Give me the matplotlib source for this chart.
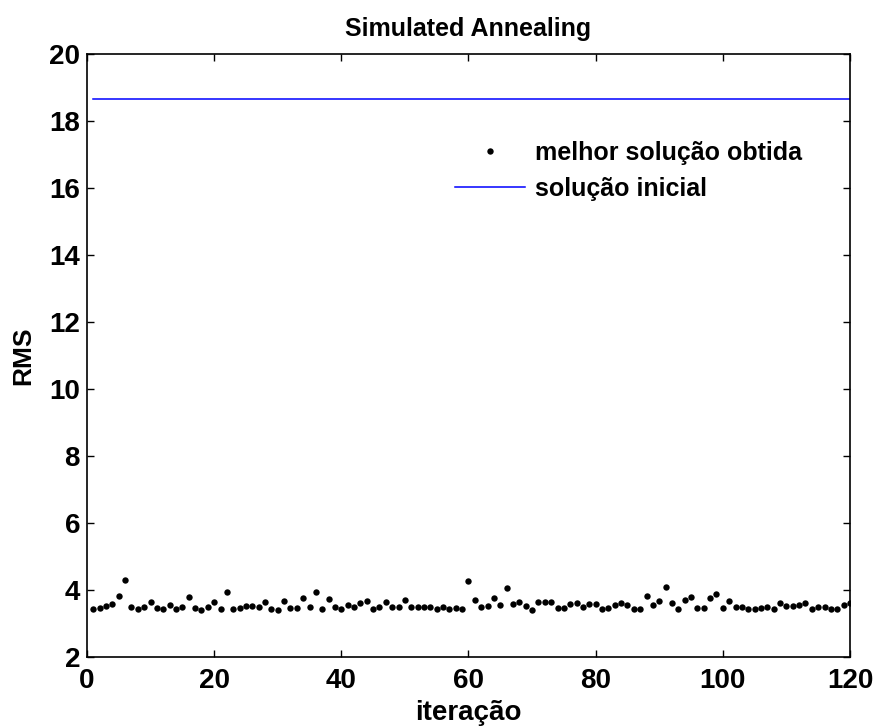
import matplotlib
matplotlib.use("Agg")
import matplotlib.pyplot as plt
import numpy as np

plt.rcParams['font.family'] = ['Liberation Sans', 'DejaVu Sans']

# melhor solucao obtida em cada iteracao
iteracoes = np.arange(1, 121)
rms = [
    3.42, 3.47, 3.51, 3.57, 3.82, 4.30, 3.50, 3.44, 3.50, 3.65,
    3.45, 3.44, 3.56, 3.44, 3.48, 3.79, 3.45, 3.41, 3.50, 3.65,
    3.42, 3.95, 3.42, 3.46, 3.53, 3.53, 3.48, 3.65, 3.43, 3.41,
    3.68, 3.46, 3.45, 3.75, 3.50, 3.95, 3.42, 3.72, 3.49, 3.42,
    3.54, 3.49, 3.61, 3.68, 3.42, 3.49, 3.65, 3.48, 3.48, 3.71,
    3.48, 3.48, 3.49, 3.48, 3.42, 3.50, 3.42, 3.47, 3.42, 4.28,
    3.70, 3.49, 3.53, 3.75, 3.55, 4.05, 3.59, 3.65, 3.53, 3.41,
    3.64, 3.64, 3.64, 3.47, 3.46, 3.58, 3.62, 3.49, 3.58, 3.58,
    3.44, 3.46, 3.54, 3.60, 3.54, 3.43, 3.43, 3.83, 3.54, 3.67,
    4.08, 3.62, 3.42, 3.71, 3.80, 3.45, 3.45, 3.77, 3.88, 3.45,
    3.66, 3.49, 3.49, 3.44, 3.44, 3.46, 3.49, 3.44, 3.61, 3.52,
    3.52, 3.54, 3.61, 3.42, 3.49, 3.50, 3.42, 3.43, 3.54, 3.60,
]
rms_inicial = 18.65

fig = plt.figure(figsize=(8.76, 7.26), dpi=100)
ax = fig.add_axes([0.0993, 0.0950, 0.8710, 0.8306])

ax.plot(iteracoes, rms, 'ko', markersize=4.6, markeredgewidth=0,
        label='melhor solução obtida')
ax.plot([iteracoes[0], iteracoes[-1]], [rms_inicial, rms_inicial], color='#0000ff',
        linewidth=1.1, label='solução inicial')

ax.set_xlim(0, 120)
ax.set_ylim(2, 20)
ax.set_xticks(np.arange(0, 121, 20))
ax.set_yticks(np.arange(2, 21, 2))
ax.tick_params(direction='in', length=5, width=1, top=True, right=True,
               labelsize=20)
ax.tick_params(axis='x', pad=8)
ax.tick_params(axis='y', pad=5)
for lab in ax.get_xticklabels() + ax.get_yticklabels():
    lab.set_fontweight('bold')
for s in ax.spines.values():
    s.set_linewidth(1.2)

ax.set_xlabel('iteração', fontsize=20, fontweight='bold')
ax.xaxis.set_label_coords(0.5, -0.071)
ax.set_ylabel('RMS', fontsize=19, fontweight='bold', labelpad=10)
ax.set_title('Simulated Annealing', fontsize=18, fontweight='bold', pad=13)

ax.legend(loc='upper left', bbox_to_anchor=(0.4525, 0.893), frameon=False,
          handlelength=2.8, handletextpad=0.4, labelspacing=0.47,
          prop={'weight': 'bold', 'size': 18})

fig.savefig('out.png', dpi=100)
